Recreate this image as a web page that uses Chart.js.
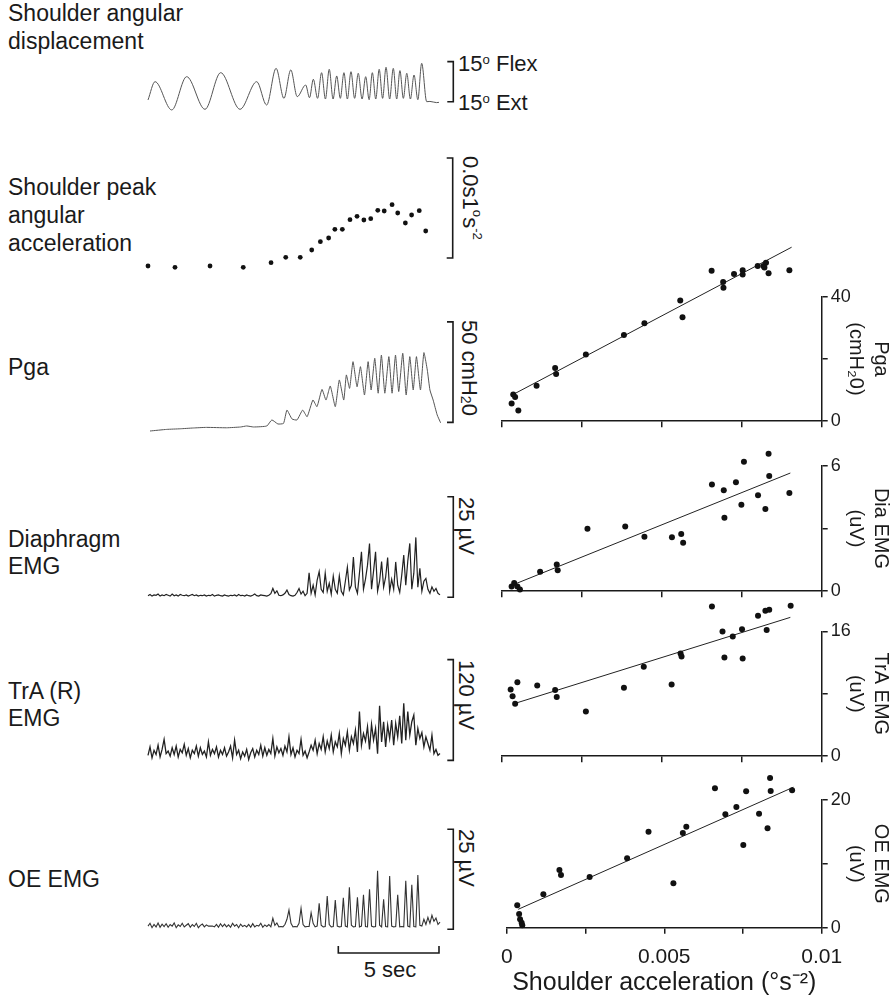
<!DOCTYPE html>
<html><head><meta charset="utf-8">
<script src="https://cdn.jsdelivr.net/npm/chart.js@4.4.0/dist/chart.umd.min.js"></script>
<style>
body{margin:0;width:893px;height:1001px;position:relative;background:#fff;overflow:hidden;font-family:"Liberation Sans",Arial,Helvetica,sans-serif;color:#1a1a1a}
.lbl{position:absolute;font-size:23px;white-space:nowrap}
.sm{font-size:22px}
.v{writing-mode:vertical-rl}
.so{font-size:0.6em;vertical-align:0.55em}
.su{font-size:0.65em;vertical-align:-0.2em}
</style></head><body>
<div class="lbl" style="left:8px;top:-1px;line-height:28px">Shoulder angular<br>displacement</div>
<div class="lbl" style="left:8px;top:173px;line-height:28px">Shoulder peak<br>angular<br>acceleration</div>
<div class="lbl" style="left:8px;top:353px;line-height:28px">Pga</div>
<div class="lbl" style="left:8px;top:526px;line-height:27px">Diaphragm<br>EMG</div>
<div class="lbl" style="left:8px;top:678px;line-height:27px">TrA (R)<br>EMG</div>
<div class="lbl" style="left:8px;top:865px;line-height:28px">OE EMG</div>

<div class="lbl sm" style="left:458px;top:48px;line-height:24px">15<span class="so">o</span> Flex</div>
<div class="lbl sm" style="left:458px;top:87px;line-height:24px">15<span class="so">o</span> Ext</div>
<div class="lbl sm v" style="left:459px;top:156px;line-height:22px">0.0s1<span class="so">o</span>s<span class="so">-2</span></div>
<div class="lbl sm v" style="left:455px;top:320px;line-height:22px">50 cmH<span class="su">2</span>0</div>
<div class="lbl sm v" style="left:455px;top:497px;line-height:22px">25 µV</div>
<div class="lbl sm v" style="left:455px;top:660px;line-height:22px">120 µV</div>
<div class="lbl sm v" style="left:455px;top:829px;line-height:22px">25 µV</div>
<div class="lbl sm" style="left:390px;top:970px;line-height:24px;transform:translate(-50%,-50%)">5 sec</div>

<script>
// ---------------- DATA ----------------
// time traces (seconds)
const traceStep = 0.1; // s between samples of the EMG traces
const dispT = [0,0.35,1.18,1.92,2.83,3.61,4.57,5.4,5.89,6.36,6.75,7.09,7.41,7.83,8.02,8.21,8.42,8.62,8.81,9.0,9.19,9.37,9.55,9.73,9.9,10.08,10.26,10.44,10.63,10.81,10.98,11.14,11.31,11.48,11.65,11.82,12.0,12.18,12.35,12.51,12.68,12.85,13.03,13.21,13.4,13.59,13.84,14.0,14.33,14.45];
const dispDeg = [-13.7,0,-21.2,3.75,-20.7,6.75,-20.7,0,-17.5,10,-12.5,8.8,-11.2,-2.5,-12,1.8,-12.5,6.75,-13,9.3,-13,4.3,-12.5,6.75,-13,7.5,-12.5,6.3,-13,3.75,-13.5,6.75,-13,9.3,-12.5,10.8,-13,10,-13,8.3,-12.5,6.3,-13,5,-13.5,13.8,-15,-14.8,-15.7,-15.5];

const peakAccT = [0,1.34,3.08,4.73,6.11,6.84,7.56,8.13,8.56,8.97,9.28,9.65,10.03,10.38,10.72,11.06,11.41,11.73,12.12,12.4,12.78,13.09,13.47,13.79];
const peakAcc = [0.0004,0.00027,0.0004,0.00027,0.00073,0.00127,0.00127,0.002,0.00283,0.0032,0.00407,0.00407,0.00503,0.00537,0.005,0.00513,0.00597,0.0059,0.00653,0.0057,0.0047,0.0055,0.00593,0.0039];

const pgaT = [0.1,0.93,1.6,2.25,2.9,3.9,4.6,4.9,5.24,5.9,6.15,6.45,6.73,6.9,7.15,7.4,7.68,7.9,8.19,8.39,8.64,8.84,9.05,9.3,9.5,9.72,9.85,10.01,10.18,10.38,10.55,10.75,10.93,11.08,11.26,11.43,11.59,11.76,11.96,12.12,12.29,12.45,12.65,12.82,13.0,13.17,13.33,13.53,13.7,13.87,14.0,14.16,14.36,14.53];
const pgaTrace = [0,0.8,1.1,1.5,1.8,1.6,2,2.5,2,2.5,5.5,3.5,3.8,10.4,6,5.5,10.4,7.1,15.4,12.1,20.7,15.4,22.4,12.1,25.4,15.4,27.9,21.2,34.5,22.0,32.0,17.9,34.5,20.4,36.2,18.8,37.8,18.8,37.0,18.8,37.8,19.6,38.7,17.9,37.0,20.4,37.0,20.4,39.0,30.3,20.4,15.4,8.0,4.1];

const diaTrace = [
0.4,0.7,0.3,0.6,0.5,0.8,0.3,0.6,0.4,0.7,
0.5,0.3,0.8,0.4,0.6,0.3,0.7,0.5,0.4,0.6,
0.3,0.5,0.7,0.4,0.6,0.3,0.5,0.4,0.6,0.3,
0.5,0.4,0.7,0.3,0.5,0.6,0.4,0.3,0.6,0.4,
0.3,0.5,0.4,0.6,0.3,0.7,0.4,0.5,0.3,0.6,
0.4,0.3,0.5,0.8,0.4,0.3,0.6,0.5,0.4,0.3,
0.5,0.9,2.2,1.0,1.6,0.5,0.4,0.6,1.0,1.8,
0.7,0.4,0.3,0.5,1.2,2.2,0.8,1.5,0.4,1.0,
6.1,1.0,3.0,0.6,4.3,6.4,2.0,1.2,6.0,1.5,
3.5,0.8,5.3,2.0,1.0,5.3,1.5,0.6,4.0,7.5,
1.8,3.0,10.0,2.5,1.0,6.0,11.3,2.0,4.5,8.0,
13.4,2.0,6.5,11.3,1.5,4.0,8.9,2.5,5.0,9.9,
1.5,4.5,2.0,8.8,3.0,1.2,5.5,10.5,3.0,9.0,
13.4,2.0,6.0,14.9,2.5,7.2,1.5,4.0,4.7,2.0,
1.0,2.6,1.5,2.2,1.0,0.6];

const traTrace = [
8,18,5,14,9,20,6,15,27,10,
13,7,17,9,19,6,15,11,21,8,
16,5,14,10,19,7,17,9,13,6,
24,8,15,10,18,6,14,9,17,7,
12,19,5,26,9,14,4,12,7,15,
3,11,16,6,14,9,20,7,17,8,
15,10,28,7,18,11,16,8,19,12,
30,9,17,6,14,10,27,8,13,5,
12,20,14,26,10,22,15,30,12,25,
16,32,12,24,18,34,10,28,20,36,
14,30,22,38,12,60,20,34,25,42,
15,45,26,40,10,67,24,48,18,44,
28,50,20,46,30,55,22,70,26,60,
32,48,56,20,40,28,35,18,30,22,
14,32,10,15,8,10];

const oeTrace = [
0.8,1.5,0.4,1.2,0.6,1.6,0.5,1.3,0.7,1.4,
0.5,1.2,0.8,1.6,0.4,1.1,0.7,1.5,0.6,1.0,
1.4,0.5,1.2,0.7,1.5,0.4,1.0,1.3,0.6,1.1,
0.8,0.8,0.8,0.6,1.2,0.5,1.4,0.7,1.3,0.6,
1.1,0.5,1.5,0.8,1.2,0.4,1.3,0.7,1.0,0.6,
1.2,0.5,1.4,0.6,1.0,0.8,1.5,0.5,1.1,0.7,
1.2,0.6,2.75,1.0,1.6,0.6,0.7,0.6,1.2,2.5,
4.8,1.5,0.6,0.7,0.6,1.5,5.25,1.2,0.6,0.7,
0.7,4.15,1.5,0.6,0.8,6.5,1.0,0.6,0.7,8.3,
1.2,0.6,0.7,7.3,0.8,0.6,0.7,7.9,0.8,0.6,
10.5,1.0,0.6,0.7,8.0,0.6,0.8,8.6,0.7,0.6,
10.0,0.8,0.6,0.7,14.65,1.0,0.6,7.5,0.7,0.6,
13.3,0.8,0.6,0.7,8.6,0.6,0.7,0.6,12.15,0.8,
0.6,11.1,0.7,0.6,13.6,1.0,0.8,2.5,1.2,3.0,
1.5,3.5,2.0,2.8,1.2,1.8];

// scatter: shoulder peak acceleration (deg s^-2) vs response
const pgaAccel = [0.00031,0.00036,0.00042,0.00052,0.00109,0.00167,0.00170,0.00263,0.00382,0.00446,0.00558,0.00565,0.00656,0.00692,0.00693,0.00726,0.00753,0.00753,0.00800,0.00818,0.00826,0.00821,0.00834,0.00899];
const pgaVal = [5.7,8.6,7.8,3.4,11.4,17.1,15.2,21.4,27.7,31.5,38.8,33.4,48.3,44.7,42.9,47.3,48.5,47.1,49.9,49.9,50.9,49.4,47.5,48.5];
const diaAccel = [0.00031,0.00039,0.00049,0.00057,0.0012,0.00172,0.00175,0.00268,0.00386,0.00446,0.00532,0.00561,0.00567,0.00657,0.00694,0.00696,0.00732,0.00749,0.00757,0.00801,0.00824,0.00834,0.00836,0.00899];
const diaVal = [0.23,0.39,0.23,0.08,0.93,1.28,1.0,2.98,3.09,2.6,2.58,2.74,2.32,5.1,4.83,3.51,5.21,4.13,6.19,4.59,3.93,6.57,5.51,4.7];
const traAccel = [0.00028,0.00034,0.00042,0.00049,0.00111,0.00167,0.00172,0.00263,0.00382,0.00444,0.00531,0.00559,0.00562,0.00657,0.0069,0.00696,0.00722,0.00751,0.00753,0.00801,0.00824,0.00836,0.00828,0.00903];
const traVal = [8.54,7.67,6.72,9.49,9.08,8.5,7.59,5.72,8.79,11.48,9.2,13.18,12.77,19.19,16.0,12.65,15.34,16.26,12.52,18.0,18.66,18.78,16.17,19.28];
const oeAccel = [0.00033,0.00039,0.00042,0.00047,0.00049,0.00116,0.00167,0.00172,0.00263,0.00382,0.0045,0.00529,0.00559,0.0057,0.00661,0.00694,0.00729,0.00751,0.0076,0.00801,0.00828,0.00836,0.00838,0.00906];
const oeVal = [3.51,2.15,1.32,0.78,0.38,5.23,9.04,8.26,7.96,10.87,15.04,6.95,14.83,15.82,21.83,17.76,18.9,12.95,21.36,17.85,15.57,23.45,21.41,21.52];

// regression lines (end points)
const pgaFitX = [0.00036,0.00906], pgaFitY = [8.6,55.9];
const diaFitX = [0.00036,0.00902], diaFitY = [0.31,5.65];
const traFitX = [0.00047,0.00902], traFitY = [6.84,17.8];
const oeFitX = [0.00036,0.0091], oeFitY = [2.88,22.0];

// axis labels
const accelTickLabels = {0:'0', 0.005:'0.005', 0.01:'0.01'};
const xTitle = 'Shoulder acceleration (°s⁻²)';

// ---------------- DRAWING ----------------
const INK = '#1a1a1a';
Chart.defaults.font.family = '"Liberation Sans", Arial, Helvetica, sans-serif';
Chart.defaults.color = INK;

Chart.register({
  id: 'scaleBar',
  afterDatasetsDraw(chart, args, o) {
    const ctx = chart.ctx;
    ctx.save();
    ctx.strokeStyle = INK; ctx.lineWidth = 1.6; ctx.lineJoin = 'miter';
    if (o && o.from !== undefined) {
      const ys = chart.scales.y;
      const x = chart.chartArea.right + o.dx;
      const y1 = ys.getPixelForValue(o.from), y2 = ys.getPixelForValue(o.to);
      ctx.beginPath();
      ctx.moveTo(x - 6, y2); ctx.lineTo(x, y2); ctx.lineTo(x, y1); ctx.lineTo(x - 6, y1);
      ctx.stroke();
    }
    if (o && o.t0 !== undefined) {
      const xs = chart.scales.x;
      const x1 = xs.getPixelForValue(o.t0), x2 = xs.getPixelForValue(o.t1);
      const yy = chart.chartArea.bottom + o.dy;
      ctx.beginPath();
      ctx.moveTo(x1, yy - 7); ctx.lineTo(x1, yy); ctx.lineTo(x2, yy); ctx.lineTo(x2, yy - 7);
      ctx.stroke();
    }
    ctx.restore();
  }
});

// lets points that lie above the labelled axis range (the axis stops at its top tick) still be drawn
const looseArea = {
  id: 'looseArea',
  beforeDatasetsDraw(chart) {
    const a = chart.chartArea;
    chart.$keptArea = a;
    chart.chartArea = {left: a.left - 10, right: a.right + 10, top: 0, bottom: chart.height,
                       width: a.width + 20, height: chart.height};
  },
  afterDatasetsDraw(chart) { chart.chartArea = chart.$keptArea; }
};

function mkCanvas(left, top, width, height) {
  const d = document.createElement('div');
  d.style.cssText = `position:absolute;left:${left}px;top:${top}px;width:${width}px;height:${height}px`;
  const c = document.createElement('canvas');
  d.appendChild(c); document.body.appendChild(d);
  return c;
}

const pts = (xs, ys) => xs.map((x, i) => ({x, y: ys[i]}));
const stepPts = (vals) => vals.map((v, i) => ({x: +(i * traceStep).toFixed(2), y: v}));

// left time-trace panel; pTop/pBot = pixel rows of yMax/yMin
function trace(pTop, pBot, yMin, yMax, extraTop, extraBot, dataset, bar) {
  const T = Math.floor(pTop - extraTop), B = Math.ceil(pBot + extraBot);
  const c = mkCanvas(140, T, 345, B - T);
  new Chart(c, {
    type: 'line',
    data: {datasets: [Object.assign({pointRadius: 0, borderWidth: 1, clip: false, borderColor: '#3a3a3a'}, dataset)]},
    options: {
      responsive: true, maintainAspectRatio: false, animation: false, events: [],
      layout: {padding: {left: 8, right: 45, top: pTop - T, bottom: B - pBot}},
      scales: {
        x: {type: 'linear', display: false, min: 0, max: 14.5},
        y: {type: 'linear', display: false, min: yMin, max: yMax}
      },
      plugins: {legend: {display: false}, tooltip: {enabled: false}, scaleBar: bar}
    }
  });
}

trace(55, 121.7, -30, 20, 5, 8, {data: pts(dispT, dispDeg), tension: 0.4, cubicInterpolationMode: 'monotone', borderColor: '#555'}, {from: -15, to: 15, dx: 13.3});
trace(150, 270, 0, 0.012, 10, 10, {data: pts(peakAccT, peakAcc), showLine: false, pointRadius: 2.4, pointBackgroundColor: '#111', pointBorderWidth: 0}, {from: 0.0012, to: 0.0112, dx: 12.7});
trace(310.4, 435.02, -2, 60, 8, 5, {data: pts(pgaT, pgaTrace), tension: 0.15, borderColor: '#555'}, {from: 4.3, to: 54.3, dx: 13});
trace(496.8, 601.32, -1, 25, 5, 5, {data: stepPts(diaTrace), borderColor: '#222', borderWidth: 1.2}, {from: 0, to: 25, dx: 13.3});
trace(657.1, 766.2, -5, 125, 5, 5, {data: stepPts(traTrace), borderColor: '#222', borderWidth: 1.3}, {from: 2, to: 122, dx: 13.3});
trace(829.3, 933.3, -1, 25, 5, 50, {data: stepPts(oeTrace), borderColor: '#333', borderWidth: 1.1}, {from: 0, to: 25, dx: 13.3, t0: 9.45, t1: 14.45, dy: 19.7});

// right scatter panel; chartTop/chartBot = pixel rows of yMax / 0
function scatter(chartTop, chartBot, extraTop, xh, xs, ys, fx, fy, yMax, yTitle, bottom) {
  const T = Math.floor(chartTop - extraTop);
  const H = Math.round(chartBot + xh - T);
  const xhAdj = T + H - chartBot;
  const c = mkCanvas(490, T, 403, H);
  const fmtX = v => {
    for (const k in accelTickLabels) if (Math.abs(v - (+k)) < 1e-9) return accelTickLabels[k];
    return '';
  };
  new Chart(c, {
    type: 'scatter',
    plugins: [looseArea],
    data: {datasets: [
      {data: pts(xs, ys), pointRadius: 3, pointBackgroundColor: '#111', pointBorderWidth: 0, showLine: false, clip: false},
      {data: pts(fx, fy), showLine: true, borderColor: '#222', borderWidth: 1, pointRadius: 0, clip: false}
    ]},
    options: {
      responsive: true, maintainAspectRatio: false, animation: false, events: [],
      layout: {padding: {left: 11.7, right: 0, top: chartTop - T, bottom: 0}},
      scales: {
        x: {
          type: 'linear', position: 'bottom', min: 0, max: 0.01,
          ticks: {stepSize: 0.0025, autoSkip: false, maxRotation: 0, padding: 11, font: {size: 21}, color: INK,
                  callback: v => bottom ? fmtX(v) : ''},
          grid: {drawOnChartArea: false, tickLength: 6, color: INK, lineWidth: 1.5},
          border: {color: INK, width: 1.5},
          title: bottom ? {display: true, text: xTitle, font: {size: 25}, color: INK, padding: {top: 0, bottom: 3}} : {display: false},
          afterFit: s => { s.height = xhAdj; }
        },
        y: {
          type: 'linear', position: 'right', min: 0, max: yMax,
          ticks: {stepSize: yMax / 2, padding: 3, font: {size: 18}, color: INK,
                  callback: v => (v === 0 || v === yMax) ? String(v) : ''},
          grid: {drawOnChartArea: false, tickLength: 6, color: INK, lineWidth: 1.5},
          border: {color: INK, width: 1.5},
          title: {display: true, text: yTitle, font: {size: 20, lineHeight: 1.25}, color: INK, padding: 0},
          afterFit: s => { s.width = 71.3; }
        }
      },
      plugins: {legend: {display: false}, tooltip: {enabled: false}}
    }
  });
}

scatter(296.7, 425, 62, 10, pgaAccel, pgaVal, pgaFitX, pgaFitY, 40, ['Pga', '(cmH₂0)'], false);
scatter(465.7, 595, 20, 10, diaAccel, diaVal, diaFitX, diaFitY, 6, ['Dia EMG', '(uV)'], false);
scatter(631.4, 760, 35, 10, traAccel, traVal, traFitX, traFitY, 16, ['TrA EMG', '(uV)'], false);
scatter(800, 927.7, 30, 73.3, oeAccel, oeVal, oeFitX, oeFitY, 20, ['OE EMG', '(uV)'], true);
</script>
</body></html>
